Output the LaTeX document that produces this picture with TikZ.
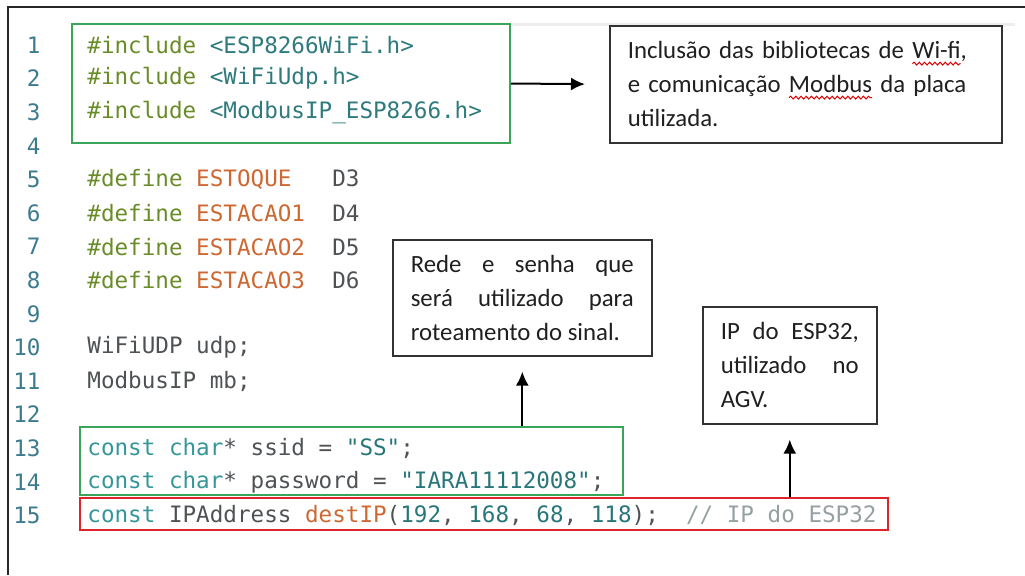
\documentclass[tikz,border=0pt]{standalone}
\usepackage{fontspec}
\usetikzlibrary{arrows.meta,fit,decorations.pathmorphing}
\setmainfont{Carlito}
\newfontfamily\codefont{DejaVu Sans Mono}

\definecolor{preproc}{RGB}{106,140,40}
\definecolor{header}{RGB}{46,122,124}
\definecolor{macroname}{RGB}{205,104,50}
\definecolor{keyword}{RGB}{52,150,152}
\definecolor{plaincode}{RGB}{78,82,84}
\definecolor{literal}{RGB}{40,118,122}
\definecolor{comment}{RGB}{150,160,162}
\definecolor{lnumblue}{RGB}{60,122,142}
\definecolor{boxgreen}{RGB}{58,164,88}
\definecolor{boxred}{RGB}{222,36,40}
\definecolor{notegray}{RGB}{50,50,50}

\newcommand\cdpre[1]{\textcolor{preproc}{#1}}
\newcommand\cdhdr[1]{\textcolor{header}{#1}}
\newcommand\cdname[1]{\textcolor{macroname}{#1}}
\newcommand\cdkw[1]{\textcolor{keyword}{#1}}
\newcommand\cdlit[1]{\textcolor{literal}{#1}}
\newcommand\cdcom[1]{\textcolor{comment}{#1}}
\newsavebox\spellbox
\newcommand\spellerr[1]{\sbox\spellbox{#1}\rlap{\tikz[baseline = 0pt, overlay]
  \draw [red!85!black, line width = 0.5pt, decorate, decoration = {snake, amplitude = 0.7pt, segment length = 2.6pt}]
    (0pt, -2.4pt) -- (\wd\spellbox, -2.4pt);}\usebox\spellbox}

\tikzset{
  codeline/.style = {anchor = west, inner sep = 0pt, text = plaincode,
    font = \codefont\fontsize{11.3}{13}\selectfont},
  lnum/.style = {anchor = east, inner sep = 0pt, text = lnumblue,
    font = \codefont\fontsize{11.3}{13}\selectfont},
  hlbox/.style = {draw = #1, line width = 1pt, inner sep = 0pt},
  note/.style = {draw = notegray, line width = 0.8pt, anchor = north west,
    inner xsep = 9pt, inner ysep = 0pt, text = black!88,
    font = \fontsize{12.4}{17}\selectfont},
  callout/.style = {-{Latex[length = 7pt, width = 6.5pt]}, line width = 1pt}
}

\begin{document}
\begin{tikzpicture}[x = 0.5pt, y = -0.5pt]
\useasboundingbox (0, 0) rectangle (1025, 575);
%\draw[very thin, color = gray](0, 0) grid[step = 50] (1025, 575);
\draw [line width = 1pt, black!85] (1025, 7) -- (8, 7) -- (8, 575);
\draw [line width = 1.5pt, black!7] (510, 24) -- (1015, 24);

% line numbers
\foreach \n in {1, ..., 15}
  \node [lnum] (ln\n) at (41, {45 + (\n - 1) * 33.6}) {\n};

% code
\node [codeline] (c1) at (87, 45) {\cdpre{\#include} \cdhdr{<ESP8266WiFi.h>}};
\node [codeline] (c2) at (87, 78.6) {\cdpre{\#include} \cdhdr{<WiFiUdp.h>}};
\node [codeline] (c3) at (87, 112.2) {\cdpre{\#include} \cdhdr{<ModbusIP\_ESP8266.h>}};
\node [codeline] (c5) at (87, 179.4) {\cdpre{\#define} \cdname{ESTOQUE}\ \ \ D3};
\node [codeline] (c6) at (87, 213) {\cdpre{\#define} \cdname{ESTACAO1}\ \ D4};
\node [codeline] (c7) at (87, 246.6) {\cdpre{\#define} \cdname{ESTACAO2}\ \ D5};
\node [codeline] (c8) at (87, 280.2) {\cdpre{\#define} \cdname{ESTACAO3}\ \ D6};
\node [codeline] (c10) at (87, 347.4) {WiFiUDP udp;};
\node [codeline] (c11) at (87, 381) {ModbusIP mb;};
\node [codeline] (c13) at (87, 448.2) {\cdkw{const char}* ssid = \cdlit{"SS"};};
\node [codeline] (c14) at (87, 481.8) {\cdkw{const char}* password = \cdlit{"IARA11112008"};};
\node [codeline] (c15) at (87, 515.4) {\cdkw{const} IPAddress \cdname{destIP}(\cdlit{192}, \cdlit{168}, \cdlit{68}, \cdlit{118});\ \ \cdcom{// IP do ESP32}};

% highlighted blocks
\node [hlbox = boxgreen, fit = {(72, 24) (510, 143)}] (incbox) {};
\node [hlbox = boxgreen, fit = {(80, 427) (623, 495)}] (wifibox) {};
\node [hlbox = boxred, fit = {(80, 498) (888, 530)}] (ipbox) {};

% notes
\node [note, minimum width = 196pt, minimum height = 58.5pt, text width = 178pt, align = left] (incnote) at (609, 25)
  {Inclusão das bibliotecas de \spellerr{Wi-fi},\\ e comunicação \spellerr{Modbus} da placa\\ utilizada.};
\node [note, minimum width = 129.5pt, minimum height = 58pt, text width = 111.5pt, align = justify] (rdnote) at (392, 239)
  {Rede e senha que\linebreak será utilizado para\linebreak roteamento do sinal.};
\node [note, minimum width = 87pt, minimum height = 58.5pt, text width = 69pt, align = justify] (ipnote) at (702, 306)
  {IP do ESP32,\linebreak utilizado no\linebreak AGV.};

% arrows
\draw [callout, shorten >= 12pt] (incbox.east) -- (incnote.west);
\draw [callout, shorten >= 7.5pt] (wifibox.north -| rdnote.south) -- (rdnote.south);
\draw [callout, shorten >= 7.5pt] (ipbox.north -| ipnote.south) -- (ipnote.south);
\end{tikzpicture}
\end{document}
